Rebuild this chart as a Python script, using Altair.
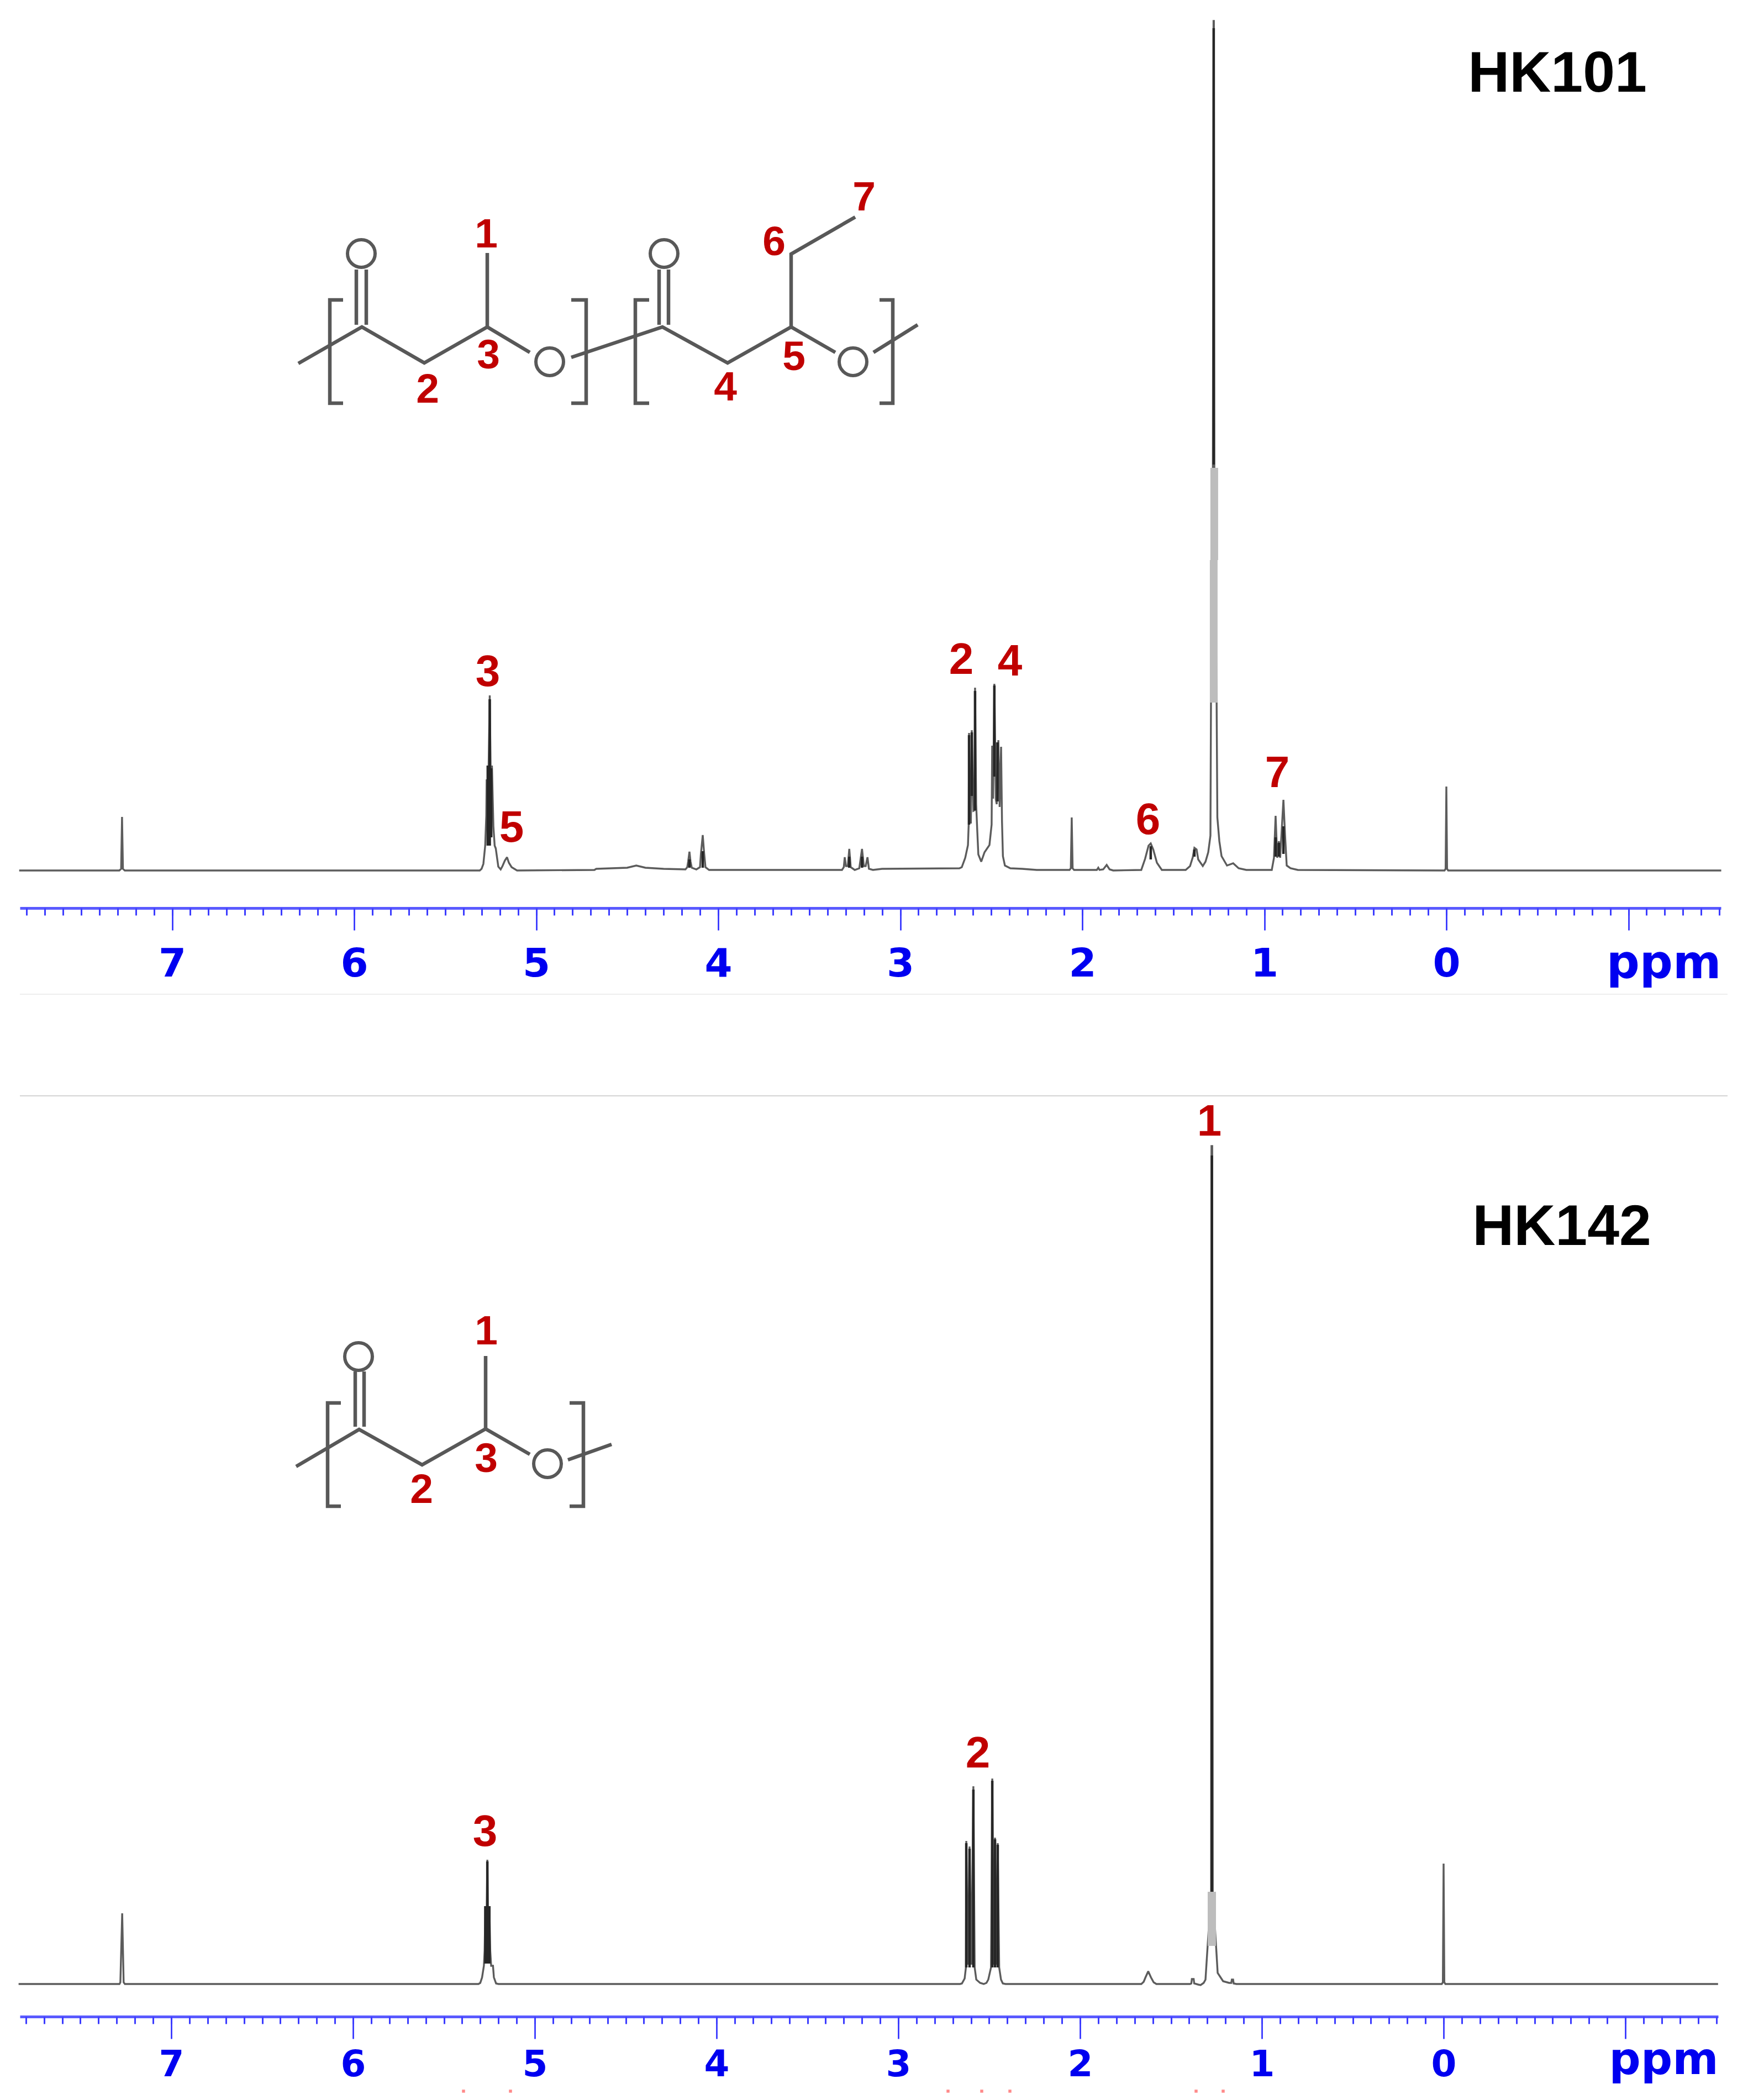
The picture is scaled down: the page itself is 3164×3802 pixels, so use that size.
import altair as alt
import pandas as pd

TOP_ZERO, TOP_K, TOP_BASE = 2619.0, 329.5, 1576.0
BOT_ZERO, BOT_K, BOT_BASE = 2614.0, 329.0, 3592.0
LEFT, TOP_RIGHT, BOT_RIGHT = 37.0, 3116.0, 3111.0
TOP_PLOT, TOP_AXIS, BOT_PLOT, BOT_AXIS = 8.0, 1644.0, 1700.0, 3651.0

major_ticks = [7, 6, 5, 4, 3, 2, 1, 0, -1]
minor_ticks = [round(7.8 - 0.1 * i, 1) for i in range(94)]

# ---- HK101 spectrum (ppm, intensity)
top_ppm = [7.84, 7.29, 7.28, 7.275, 7.27, 7.26,
           5.31, 5.30, 5.29, 5.28, 5.274, 5.272, 5.266, 5.255, 5.249, 5.243, 5.235, 5.228, 5.222, 5.208, 5.195, 5.185, 5.172, 5.16, 5.15, 5.135, 5.105,
           4.68, 4.67, 4.5, 4.45, 4.40, 4.3, 4.18, 4.17, 4.165, 4.158, 4.152, 4.145, 4.12, 4.10, 4.095, 4.085, 4.077, 4.07, 4.05,
           3.32, 3.31, 3.305, 3.298, 3.288, 3.28, 3.272, 3.25, 3.225, 3.21, 3.20, 3.19, 3.18, 3.172, 3.15, 3.1,
           2.675, 2.662, 2.643, 2.628, 2.624, 2.622, 2.617, 2.612, 2.607, 2.598, 2.592, 2.589, 2.583, 2.577, 2.571, 2.555, 2.537, 2.51, 2.498, 2.495, 2.49, 2.483, 2.475, 2.47, 2.461, 2.454, 2.446, 2.441, 2.436, 2.425, 2.395, 2.33, 2.25,
           2.07, 2.063, 2.058, 2.053, 2.045, 1.92, 1.912, 1.905, 1.885, 1.866, 1.85, 1.83,
           1.676, 1.655, 1.636, 1.624, 1.61, 1.59, 1.563, 1.432, 1.408, 1.393, 1.384, 1.372, 1.363, 1.338, 1.323, 1.308, 1.296, 1.293,
           1.2825, 1.279, 1.277, 1.2745, 1.262, 1.258, 1.247, 1.235, 1.205, 1.171, 1.141, 1.099,
           0.959, 0.947, 0.938, 0.929, 0.92, 0.913, 0.895, 0.886, 0.877, 0.856, 0.816,
           0.01, 0.004, 0.0, -0.004, -0.01, -1.51]
top_int = [0, 0, 3, 97, 3, 0,
           0, 3, 12, 45, 100, 165, 90, 317, 150, 190, 80, 45, 40, 7, 2, 8, 18, 24, 14, 6, 0,
           1, 3, 5, 9, 5, 3, 2, 6, 16, 34, 16, 5, 2, 6, 30, 64, 30, 6, 1,
           1, 6, 24, 8, 8, 39, 6, 1, 4, 39, 8, 8, 24, 3, 1, 3,
           4, 6, 23, 46, 83, 249, 110, 85, 254, 108, 109, 331, 120, 73, 29, 16, 33, 46, 83, 226, 130, 338, 129, 120, 236, 115, 224, 89, 26, 9, 4, 3, 1,
           1, 4, 96, 4, 1, 1, 5, 1, 2, 10, 2, 0,
           1, 21, 45, 49, 38, 14, 1, 1, 8, 24, 41, 38, 20, 8, 16, 33, 63, 304,
           730, 1538, 1538, 730, 304, 96, 53, 26, 9, 13, 4, 1,
           1, 23, 99, 23, 53, 23, 128, 63, 9, 4, 1,
           0, 3, 152, 3, 0, 0]

# ---- HK142 spectrum (ppm, intensity)
bot_ppm = [7.84, 7.285, 7.28, 7.27, 7.262, 7.255,
           5.31, 5.30, 5.29, 5.28, 5.276, 5.272, 5.267, 5.261, 5.255, 5.25, 5.245, 5.24, 5.23, 5.225, 5.213, 5.2,
           2.66, 2.65, 2.635, 2.628, 2.626, 2.617, 2.608, 2.598, 2.587, 2.58, 2.571, 2.55, 2.53, 2.515, 2.505, 2.49, 2.483, 2.475, 2.468, 2.46, 2.453, 2.445, 2.435, 2.425, 2.41,
           1.663, 1.65, 1.64, 1.625, 1.61, 1.595, 1.58,
           1.395, 1.388, 1.385, 1.375, 1.372, 1.35, 1.337, 1.32, 1.31, 1.298, 1.279, 1.277, 1.273, 1.27, 1.252, 1.243, 1.213, 1.18, 1.168, 1.165, 1.158, 1.155, 1.14,
           0.01, 0.004, 0.0, -0.004, -0.01, -1.51]
bot_int = [0, 0, 3, 128, 3, 0,
           0, 2, 12, 33, 60, 141, 60, 225, 60, 141, 60, 33, 33, 12, 1, 0,
           0, 1, 10, 30, 259, 35, 249, 35, 358, 30, 8, 2, 0, 2, 8, 30, 372, 35, 265, 35, 255, 30, 8, 1, 0,
           0, 4, 12, 23, 12, 3, 0,
           0, 1, 9, 9, 1, -1, -2, 2, 8, 70, 167, 1517, 1517, 167, 70, 20, 5, 2, 2, 8, 8, 1, 0,
           0, 3, 218, 3, 0, 0]

# ---- dark multiplet cores (ppm, low, high)
top_core_ppm = [5.255, 5.266, 5.247, 4.158, 4.085, 3.28, 3.21, 2.622, 2.589, 2.483, 2.466, 2.607, 1.278, 1.624, 1.384, 0.938, 0.92, 0.895]
top_core_lo = [45, 45, 60, 5, 5, 5, 5, 83, 109, 170, 125, 135, 735, 20, 25, 25, 25, 30]
top_core_hi = [310, 190, 185, 20, 35, 25, 25, 245, 325, 335, 232, 250, 1525, 44, 38, 60, 50, 80]
bot_core_ppm = [5.272, 5.261, 5.25, 2.626, 2.608, 2.587, 2.483, 2.468, 2.453, 1.275]
bot_core_lo = [37, 37, 37, 30, 30, 30, 30, 30, 30, 167]
bot_core_hi = [141, 222, 141, 255, 245, 352, 368, 262, 252, 1500]

# ---- grey merged parts of the tallest peaks (ppm, low, high)
top_band_ppm = [1.278, 1.275]
top_band_lo = [304, 562]
top_band_hi = [562, 729]
bot_band_ppm = [1.275]
bot_band_lo = [69]
bot_band_hi = [167]

# ---- peak labels (page position)
top_peak_text = ["3", "5", "2", "4", "6", "7"]
top_peak_x = [884, 927, 1741, 1829, 2079, 2313]
top_peak_y = [1215, 1497, 1193, 1196, 1483, 1398]
bot_peak_text = ["1", "3", "2"]
bot_peak_x = [2190, 879, 1771]
bot_peak_y = [2029, 3315, 3173]

# ---- structure labels
top_atom_text = ["1", "7", "6", "3", "2", "4", "5"]
top_atom_x = [881, 1565, 1402, 885, 775, 1314, 1438]
top_atom_y = [422, 355, 436, 641, 703, 699, 644]
bot_atom_text = ["1", "2", "3"]
bot_atom_x = [881, 764, 881]
bot_atom_y = [2408, 2695, 2639]

titles_text = ["HK101", "HK142"]
title_top = (2820, 132)
title_bot = (2828, 2220)

# ---- structure drawings: polylines and oxygen atoms
top_bonds = [
    [(541, 658), (656, 592), (769, 657), (883, 592), (960, 638)],
    [(883, 592), (883, 458)],
    [(646, 588), (646, 488)], [(664, 588), (664, 488)],
    [(1035, 647), (1200, 592), (1318, 657), (1433, 592), (1513, 638)],
    [(1433, 592), (1433, 460), (1549, 393)],
    [(1194, 588), (1194, 488)], [(1211, 588), (1211, 488)],
    [(1582, 638), (1662, 588)],
    [(622, 543), (598, 543), (598, 730), (622, 730)],
    [(1035, 543), (1062, 543), (1062, 730), (1035, 730)],
    [(1176, 543), (1151, 543), (1151, 730), (1176, 730)],
    [(1593, 543), (1617, 543), (1617, 730), (1593, 730)],
]
top_oxygen = [(655, 459), (996, 655), (1203, 459), (1545, 655)]
bot_bonds = [
    [(537, 2655), (651, 2588), (765, 2652), (880, 2587), (960, 2633)],
    [(880, 2587), (880, 2455)],
    [(644, 2583), (644, 2483)], [(660, 2583), (660, 2483)],
    [(1029, 2643), (1108, 2615)],
    [(618, 2540), (594, 2540), (594, 2727), (618, 2727)],
    [(1032, 2540), (1057, 2540), (1057, 2727), (1032, 2727)],
]
bot_oxygen = [(650, 2456), (992, 2650)]

# ---- faint lines between the panels and cut-off marks at the page foot
sep_y = [1800, 1984]
sep_color = ["#eeeeee", "#d4d4d4"]
foot_x = [840, 925, 1717, 1778, 1829, 2166, 2215]
foot_y = [3786] * 7


def panel(zero, k, base, right, plot_top, axis_y, s_ppm, s_int, core, band, peak, atom, bonds, oxy, title, band_w,
          label_size, label_pad, ppm_size, ppm_y, extra=None):
    to_ppm = lambda px: (zero - px) / k
    to_int = lambda py: base - py
    xdom = [to_ppm(LEFT), to_ppm(right)]
    ydom = [to_int(axis_y), to_int(plot_top)]
    xs = alt.Scale(domain=xdom, nice=False, zero=False)
    ys = alt.Scale(domain=ydom, nice=False, zero=False)
    X = lambda f: alt.X(f, type="quantitative", scale=xs, axis=None)
    Y = lambda f: alt.Y(f, type="quantitative", scale=ys, axis=None)

    spec = pd.DataFrame({"ppm": s_ppm, "i": s_int, "n": range(len(s_ppm))})

    major = alt.Chart(spec).mark_line(color="#5c5c5c", strokeWidth=3.4, strokeJoin="miter", strokeMiterLimit=2).encode(
        x=alt.X("ppm", type="quantitative", scale=xs, axis=alt.Axis(
            orient="bottom", values=major_ticks, grid=False, tickSize=40, tickWidth=2.6, tickColor="#2a2aff",
            domainColor="#5a5aff", domainWidth=5, labelFont="DejaVu Sans", labelFontWeight="bold", labelFontSize=label_size,
            labelColor="#0000f0", labelPadding=label_pad, labelOverlap=False, labelFlush=False, labelBound=False,
            labelExpr="datum.value < 0 ? '' : datum.value", title="ppm", titleFont="DejaVu Sans", titleFontWeight="bold",
            titleFontSize=ppm_size, titleColor="#0000f0", titleAlign="right", titleBaseline="alphabetic", titleX=right - LEFT, titleY=ppm_y)),
        y=Y("i"), order=alt.Order("n:Q"))
    minor = alt.Chart(spec).mark_line(opacity=0).encode(
        x=alt.X("ppm", type="quantitative", scale=xs, axis=alt.Axis(
            orient="bottom", values=minor_ticks, grid=False, tickSize=13, tickWidth=3, tickColor="#3c3cff",
            domain=False, labels=False, title=None)),
        y=Y("i"), order=alt.Order("n:Q"))

    core_df = pd.DataFrame({"ppm": core[0], "lo": core[1], "hi": core[2]})
    core_l = alt.Chart(core_df).mark_rule(color="#262626", strokeWidth=4.5).encode(x=X("ppm"), y=Y("lo"), y2="hi")
    band_df = pd.DataFrame({"ppm": band[0], "lo": band[1], "hi": band[2]})
    band_l = alt.Chart(band_df).mark_rule(color="#bdbdbd", strokeWidth=band_w).encode(x=X("ppm"), y=Y("lo"), y2="hi")

    rows = []
    for b, line in enumerate(bonds):
        for n, (px, py) in enumerate(line):
            rows.append({"b": b, "n": n, "x": to_ppm(px), "y": to_int(py)})
    bond_l = alt.Chart(pd.DataFrame(rows)).mark_line(color="#585858", strokeWidth=6.5, strokeJoin="miter").encode(
        x=X("x"), y=Y("y"), detail="b:N", order=alt.Order("n:Q"))
    oxy_df = pd.DataFrame({"x": [to_ppm(p[0]) for p in oxy], "y": [to_int(p[1]) for p in oxy]})
    oxy_l = alt.Chart(oxy_df).mark_point(shape="circle", filled=False, color="#585858", strokeWidth=6, size=2500, opacity=1).encode(x=X("x"), y=Y("y"))

    def text_layer(t, px, py, size, color):
        df = pd.DataFrame({"t": t, "x": [to_ppm(v) for v in px], "y": [to_int(v) for v in py]})
        return alt.Chart(df).mark_text(font="Liberation Sans", fontWeight="bold", fontSize=size, color=color,
                                       align="center", baseline="middle", dy=3).encode(x=X("x"), y=Y("y"), text="t:N")

    layers = [major, minor, band_l, core_l, bond_l, oxy_l,
              text_layer(*peak, 80, "#c00000"), text_layer(*atom, 75, "#c00000"),
              text_layer([title[0]], [title[1]], [title[2]], 104, "#000000")]
    if extra:
        sep_df = pd.DataFrame({"y": [to_int(v) for v in sep_y], "c": sep_color,
                               "x": [to_ppm(LEFT)] * 2, "x2": [to_ppm(3128)] * 2})
        layers.append(alt.Chart(sep_df).mark_rule(strokeWidth=2).encode(
            x=X("x"), x2="x2", y=Y("y"), color=alt.Color("c:N", scale=None)))
        foot_df = pd.DataFrame({"x": [to_ppm(v) for v in foot_x], "y": [to_int(v) for v in foot_y]})
        layers.append(alt.Chart(foot_df).mark_point(shape="square", filled=True, color="#ff8a8a", size=30, opacity=1).encode(x=X("x"), y=Y("y")))

    return alt.layer(*layers).resolve_axis(x="independent").properties(width=right - LEFT, height=axis_y - plot_top)


top = panel(TOP_ZERO, TOP_K, TOP_BASE, TOP_RIGHT, TOP_PLOT, TOP_AXIS, top_ppm, top_int,
            (top_core_ppm, top_core_lo, top_core_hi), (top_band_ppm, top_band_lo, top_band_hi),
            (top_peak_text, top_peak_x, top_peak_y), (top_atom_text, top_atom_x, top_atom_y),
            top_bonds, top_oxygen, (titles_text[0], title_top[0], title_top[1]), 14,
            72, 26, 84, 126)
bot = panel(BOT_ZERO, BOT_K, BOT_BASE, BOT_RIGHT, BOT_PLOT, BOT_AXIS, bot_ppm, bot_int,
            (bot_core_ppm, bot_core_lo, bot_core_hi), (bot_band_ppm, bot_band_lo, bot_band_hi),
            (bot_peak_text, bot_peak_x, bot_peak_y), (bot_atom_text, bot_atom_x, bot_atom_y),
            bot_bonds, bot_oxygen, (titles_text[1], title_bot[0], title_bot[1]), 15,
            66, 15, 80, 103, extra=True)

chart = alt.vconcat(top, bot, spacing=BOT_PLOT - TOP_AXIS, bounds="flush").properties(
    padding={"left": 22, "top": 0, "right": 0, "bottom": 0}, background="white"
).configure_view(stroke=None)

chart.save("out.html", embed_options={"renderer": "svg", "actions": False})
